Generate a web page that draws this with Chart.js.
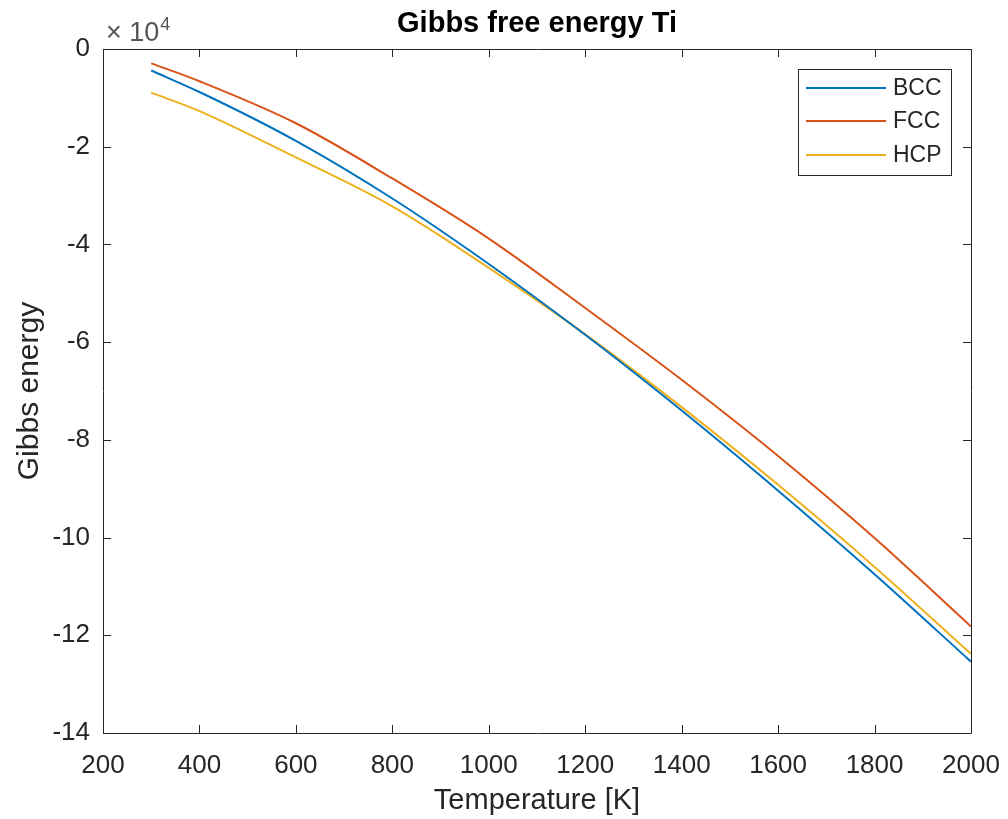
<!DOCTYPE html>
<html>
<head>
<meta charset="utf-8">
<title>Gibbs free energy Ti</title>
<script src="https://cdn.jsdelivr.net/npm/chart.js@4/dist/chart.umd.min.js"></script>
<style>
  html, body { margin: 0; padding: 0; background: #fff; }
  #wrap { width: 1008px; height: 819px; }
</style>
</head>
<body>
<div id="wrap"><canvas id="gibbs" width="1008" height="819"></canvas></div>
<script>
// Temperatures [K] and Gibbs energy per phase
const temperatures = [300, 400, 600, 800, 1000, 1200, 1400, 1600, 1800, 2000];
const bccEnergy = [-4400, -8800, -18800, -30600, -44000, -58500, -74000, -90400, -107500, -125400];
const fccEnergy = [-2930, -6600, -15200, -26500, -38800, -53000, -67700, -83300, -100100, -118200];
const hcpEnergy = [-8940, -12700, -22200, -32200, -44800, -58400, -73300, -89200, -106000, -123800];

const phaseNames = ['BCC', 'FCC', 'HCP'];
const phaseColors = ['#0072BD', '#D95319', '#EDB120'];

const xTicks = [200, 400, 600, 800, 1000, 1200, 1400, 1600, 1800, 2000];
const yTicks = [0, -20000, -40000, -60000, -80000, -100000, -120000, -140000];

const axisColor = '#262626';
const fontFamily = '"Liberation Sans", Arial, Helvetica, sans-serif';

const toPoints = (ys) => temperatures.map((t, i) => ({ x: t, y: ys[i] }));

// matlab-ish box with inward ticks, title, exponent and legend
const matlabFrame = {
  id: 'matlabFrame',
  afterDraw: (chart) => {
    const ctx = chart.ctx;
    const area = chart.chartArea;
    const xs = chart.scales.x;
    const ys = chart.scales.y;
    const tickLen = 8;

    ctx.save();
    ctx.strokeStyle = axisColor;
    ctx.lineWidth = 1;
    ctx.beginPath();
    ctx.rect(Math.round(area.left) + 0.5, Math.round(area.top) + 0.5,
      Math.round(area.right - area.left), Math.round(area.bottom - area.top));
    ctx.stroke();

    ctx.beginPath();
    xTicks.forEach((v) => {
      const px = Math.round(xs.getPixelForValue(v)) + 0.5;
      ctx.moveTo(px, area.bottom);
      ctx.lineTo(px, area.bottom - tickLen);
      ctx.moveTo(px, area.top);
      ctx.lineTo(px, area.top + tickLen);
    });
    yTicks.forEach((v) => {
      const py = Math.round(ys.getPixelForValue(v)) + 0.5;
      ctx.moveTo(area.left, py);
      ctx.lineTo(area.left + tickLen, py);
      ctx.moveTo(area.right, py);
      ctx.lineTo(area.right - tickLen, py);
    });
    ctx.stroke();

    // title
    ctx.fillStyle = '#000';
    ctx.font = 'bold 29px ' + fontFamily;
    ctx.textAlign = 'center';
    ctx.textBaseline = 'middle';
    ctx.fillText('Gibbs free energy Ti', (area.left + area.right) / 2, 24);

    // axis titles
    ctx.fillStyle = axisColor;
    ctx.font = '29px ' + fontFamily;
    ctx.fillText('Temperature [K]', (area.left + area.right) / 2, 801);
    ctx.font = '30px ' + fontFamily;
    ctx.save();
    ctx.translate(30, 391);
    ctx.rotate(-Math.PI / 2);
    ctx.fillText('Gibbs energy', 0, 0);
    ctx.restore();

    // exponent
    ctx.fillStyle = '#555';
    ctx.textAlign = 'left';
    ctx.textBaseline = 'alphabetic';
    ctx.font = '27px ' + fontFamily;
    const base = '\u00d7 10';
    ctx.fillText(base, area.left + 3, 41);
    const baseW = ctx.measureText(base).width;
    ctx.font = '18px ' + fontFamily;
    ctx.fillText('4', area.left + 4 + baseW, 30);

    // legend
    const box = { x: 798, y: 69, w: 153, h: 106 };
    ctx.fillStyle = '#fff';
    ctx.fillRect(box.x, box.y, box.w, box.h);
    ctx.strokeStyle = axisColor;
    ctx.strokeRect(box.x + 0.5, box.y + 0.5, box.w, box.h);
    ctx.font = '23px ' + fontFamily;
    ctx.textBaseline = 'middle';
    const rowY = [88, 121, 155];
    phaseNames.forEach((name, i) => {
      ctx.strokeStyle = phaseColors[i];
      ctx.lineWidth = 2;
      ctx.beginPath();
      ctx.moveTo(806, rowY[i]);
      ctx.lineTo(886, rowY[i]);
      ctx.stroke();
      ctx.fillStyle = axisColor;
      ctx.fillText(name, 893, rowY[i] + 1);
    });
    ctx.restore();
  }
};

const ctx = document.getElementById('gibbs');
new Chart(ctx, {
  type: 'line',
  data: {
    datasets: [bccEnergy, fccEnergy, hcpEnergy].map((ys, i) => ({
      label: phaseNames[i],
      data: toPoints(ys),
      borderColor: phaseColors[i],
      borderWidth: 2,
      pointRadius: 0,
      fill: false,
      cubicInterpolationMode: 'monotone'
    }))
  },
  options: {
    responsive: false,
    animation: false,
    layout: { padding: { top: 49, right: 37, left: 0, bottom: 0 } },
    plugins: {
      legend: { display: false },
      tooltip: { enabled: false }
    },
    scales: {
      x: {
        type: 'linear',
        min: 200,
        max: 2000,
        afterBuildTicks: (scale) => { scale.ticks = xTicks.map((v) => ({ value: v })); },
        afterFit: (scale) => {
          scale.height = 86;
          scale.paddingLeft = 0;
          scale.paddingRight = 0;
        },
        grid: { display: false, drawTicks: false },
        border: { display: false },
        ticks: {
          color: axisColor,
          padding: 17,
          maxRotation: 0,
          font: { family: fontFamily, size: 26 },
          callback: (v) => String(v)
        }
      },
      y: {
        type: 'linear',
        min: -140000,
        max: 0,
        afterBuildTicks: (scale) => { scale.ticks = yTicks.map((v) => ({ value: v })); },
        afterFit: (scale) => {
          scale.width = 103;
          scale.paddingTop = 0;
          scale.paddingBottom = 0;
        },
        grid: { display: false, drawTicks: false },
        border: { display: false },
        ticks: {
          color: axisColor,
          padding: 13,
          font: { family: fontFamily, size: 26 },
          callback: (v) => String(v / 10000)
        }
      }
    }
  },
  plugins: [matlabFrame]
});
</script>
</body>
</html>
